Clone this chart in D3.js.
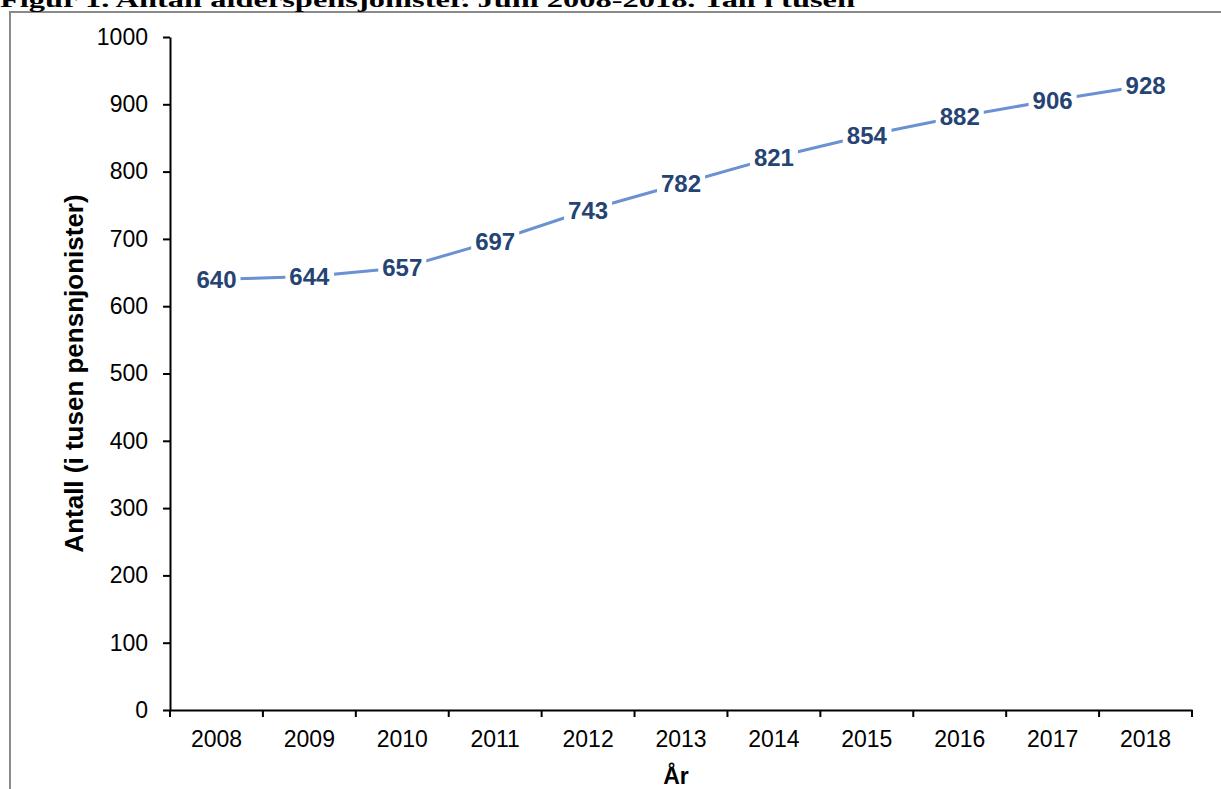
<!DOCTYPE html>
<html>
<head>
<meta charset="utf-8">
<script src="https://cdn.jsdelivr.net/npm/d3@7"></script>
<style>
  body { margin: 0; background: #fff; }
  svg { display: block; }
</style>
</head>
<body>
<div id="graph"></div>
<script>
// data
var years = ["2008", "2009", "2010", "2011", "2012", "2013", "2014", "2015", "2016", "2017", "2018"];
var values = [640, 644, 657, 697, 743, 782, 821, 854, 882, 906, 928];
var yTicks = [0, 100, 200, 300, 400, 500, 600, 700, 800, 900, 1000];

var title = "Figur 1. Antall alderspensjonister. Juni 2008-2018. Tall i tusen";
var ylabel = "Antall (i tusen pensnjonister)";
var xlabel = "År";

var data = years.map(function (y, i) { return {year: y, value: values[i]}; });

var W = 1221, H = 789;
var plot = {left: 170, right: 1192, top: 37, bottom: 710};

var svg = d3.select("#graph")
  .append("svg")
    .attr("width", W)
    .attr("height", H);

// frame (top + left edge of the clipped figure box)
svg.append("path")
  .attr("d", "M10," + H + "V12H" + W)
  .attr("fill", "none")
  .attr("stroke", "#8a8a8a")
  .attr("stroke-width", 2);

// title, cut off at the top like in the source picture
svg.append("text")
  .attr("x", 0)
  .attr("y", 7)
  .attr("textLength", 855)
  .attr("lengthAdjust", "spacingAndGlyphs")
  .style("font-family", "'Liberation Serif', 'Times New Roman', serif")
  .style("font-weight", "bold")
  .style("font-size", "20px")
  .text(title);

// scales
var x = d3.scaleBand()
  .domain(years)
  .range([plot.left, plot.right]);

var y = d3.scaleLinear()
  .domain([0, 1000])
  .range([plot.bottom, plot.top]);

var font = "'Liberation Sans', Arial, sans-serif";

// Y axis
var yAxis = svg.append("g")
  .attr("transform", "translate(" + plot.left + ",0)")
  .call(d3.axisLeft(y).tickValues(yTicks).tickFormat(d3.format("d"))
    .tickSize(7).tickPadding(15).tickSizeOuter(0));

// X axis: labels centred in bands, ticks on band edges
var xAxis = svg.append("g")
  .attr("transform", "translate(0," + plot.bottom + ")")
  .call(d3.axisBottom(x).tickSize(0).tickPadding(21).tickSizeOuter(0));

var edges = years.map(function (d) { return x(d); }).concat([plot.right]);
xAxis.selectAll(".edge")
  .data(edges)
  .enter()
  .append("line")
    .attr("x1", function (d) { return d; })
    .attr("x2", function (d) { return d; })
    .attr("y1", 0)
    .attr("y2", 7)
    .attr("stroke", "#000")
    .attr("stroke-width", 2);

[xAxis, yAxis].forEach(function (a) {
  a.select(".domain").attr("stroke", "#000").attr("stroke-width", 2);
  a.selectAll(".tick line").attr("stroke", "#000").attr("stroke-width", 2);
  a.selectAll("text")
    .style("font-family", font)
    .style("font-size", "23px")
    .attr("fill", "#000");
});

// axis titles
svg.append("text")
  .attr("transform", "translate(83," + ((plot.top + plot.bottom) / 2) + ") rotate(-90)")
  .style("text-anchor", "middle")
  .style("font-family", font)
  .style("font-weight", "bold")
  .style("font-size", "26px")
  .text(ylabel);

svg.append("text")
  .attr("x", 676)
  .attr("y", 784)
  .style("text-anchor", "middle")
  .style("font-family", font)
  .style("font-weight", "bold")
  .style("font-size", "23px")
  .text(xlabel);

// line
var cx = function (d) { return x(d.year) + x.bandwidth() / 2; };

svg.append("path")
  .datum(data)
  .attr("fill", "none")
  .attr("stroke", "#6a91d2")
  .attr("stroke-width", 3)
  .attr("d", d3.line()
    .x(cx)
    .y(function (d) { return y(d.value); }));

// data labels with white boxes that break the line
var labels = svg.append("g")
  .selectAll("g")
  .data(data)
  .enter()
  .append("g")
    .attr("transform", function (d) { return "translate(" + cx(d) + "," + y(d.value) + ")"; });

labels.append("rect").attr("fill", "#fff");

labels.append("text")
  .attr("dy", "0.36em")
  .style("text-anchor", "middle")
  .style("font-family", font)
  .style("font-weight", "bold")
  .style("font-size", "24px")
  .attr("fill", "#254473")
  .text(function (d) { return d.value; });

labels.each(function () {
  var g = d3.select(this);
  var b = g.select("text").node().getBBox();
  g.select("rect")
    .attr("x", b.x - 4)
    .attr("y", b.y + 2)
    .attr("width", b.width + 8)
    .attr("height", b.height - 4);
});
</script>
</body>
</html>
